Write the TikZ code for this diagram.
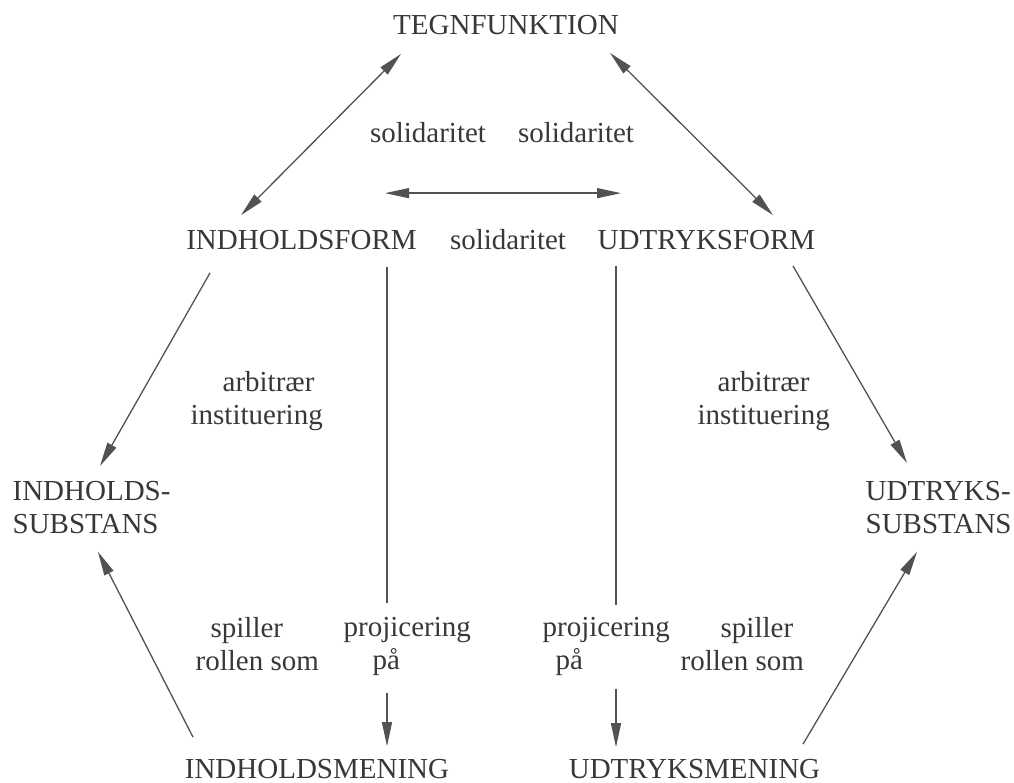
\documentclass[tikz,border=0pt]{standalone}
\usepackage{fontspec}
\setmainfont{Liberation Serif}
\usepackage{tikz}
\usetikzlibrary{arrows.meta}
\definecolor{ink}{gray}{0.22}
\definecolor{wire}{gray}{0.32}

\begin{document}
\begin{tikzpicture}[x=1pt,y=-1pt,>={Triangle[length=24pt,width=10pt]},
    line width=1.3pt,draw=wire,
    term/.style={inner sep=0pt,text=ink,font=\fontsize{29}{33}\selectfont},
    lbl/.style={inner sep=0pt,text=ink,font=\fontsize{29}{33}\selectfont,align=left}]
  \useasboundingbox (0,0) rectangle (1014,783);
  % terms
  \node[term,anchor=base] (tegn) at (506,35) {TEGNFUNKTION};
  \node[term,anchor=base] (indform) at (301.5,250) {INDHOLDSFORM};
  \node[term,anchor=base] (udform) at (706.5,250) {UDTRYKSFORM};
  \node[term,align=left,anchor=north west] (insub) at (12,481) {INDHOLDS-\\SUBSTANS};
  \node[term,align=left,anchor=north west] (udsub) at (865,481) {UDTRYKS-\\SUBSTANS};
  \node[term,anchor=base] (inmen) at (317,778) {INDHOLDSMENING};
  \node[term,anchor=base] (udmen) at (694.5,778) {UDTRYKSMENING};
  % relation labels
  \node[lbl,anchor=base] (soli1) at (428,143) {solidaritet};
  \node[lbl,anchor=base] (soli2) at (576,143) {solidaritet};
  \node[lbl,anchor=base] (soli3) at (508,250) {solidaritet};
  \node[lbl,anchor=north west] (arb1) at (190,371) {\hspace*{32pt}arbitrær\\instituering};
  \node[lbl,anchor=north west] (arb2) at (697,371) {\hspace*{20pt}arbitrær\\instituering};
  \node[lbl,anchor=north west] (spil1) at (195,617) {\hspace*{15pt}spiller\\rollen som};
  \node[lbl,anchor=north west] (proj1) at (343,617) {projicering\\\hspace*{29pt}på};
  \node[lbl,anchor=north west] (proj2) at (542,617) {projicering\\\hspace*{13pt}på};
  \node[lbl,anchor=north west] (spil2) at (680,617) {\hspace*{40pt}spiller\\rollen som};

  \draw[<->] ([xshift=-60.5,yshift=15]indform.north) -- ([xshift=-105,yshift=-18]tegn.south);
  \draw[<->] ([xshift=104,yshift=-17]tegn.south) -- ([xshift=66.5,yshift=15]udform.north);
  \draw[<->] ([xshift=83.5,yshift=37]indform.north) -- ([xshift=-85.5,yshift=37]udform.north);
  \draw[->] ([xshift=-91.5,yshift=-22]indform.south) -- ([xshift=88,yshift=15]insub.north west);
  \draw[->] ([xshift=86.5,yshift=-15]udform.south) -- ([xshift=42,yshift=18]udsub.north west);
  \draw[->] ([xshift=-124,yshift=21]inmen.north) -- ([xshift=86,yshift=-17]insub.south west);
  \draw[->] ([xshift=108.5,yshift=14]udmen.north) -- ([xshift=52,yshift=-17]udsub.south west);
  \draw ([xshift=85.5,yshift=-16]indform.south) -- ([xshift=44,yshift=14]proj1.north west);
  \draw[->] ([xshift=44,yshift=-16]proj1.south west) -- ([xshift=70,yshift=12]inmen.north);
  \draw ([xshift=-90.5,yshift=-15]udform.south) -- ([xshift=74,yshift=12]proj2.north west);
  \draw[->] ([xshift=74,yshift=-12]proj2.south west) -- ([xshift=-78.5,yshift=11]udmen.north);
\end{tikzpicture}
\end{document}
